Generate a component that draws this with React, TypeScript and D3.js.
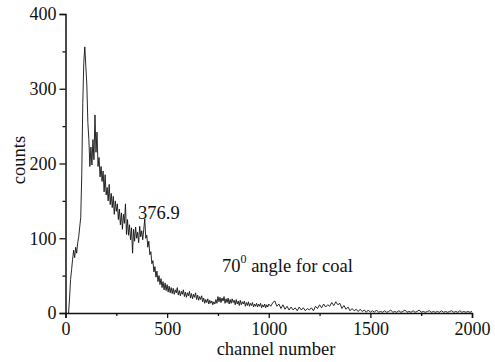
import React, { useRef, useEffect } from 'react';
import * as d3 from 'd3';

// channel grid: every 5 channels from 15 to 1000, then every 10 up to 2000
const lowChannels = d3.range(15, 1001, 5);
const highChannels = d3.range(1010, 2001, 10);

const lowCounts = [
  // 15 - 500
  0, 20, 45, 58, 72, 84, 74, 88, 80, 94,
  102, 115, 128, 185, 280, 335, 356, 330, 305, 255,
  232, 196, 222, 198, 232, 205, 265, 215, 242, 196,
  208, 182, 196, 176, 190, 162, 185, 158, 168, 150,
  172, 145, 160, 141, 156, 132, 150, 136, 146, 125,
  139, 118, 134, 112, 132, 120, 146, 105, 125, 104,
  118, 98, 114, 80, 112, 96, 115, 100, 108, 94,
  116, 102, 110, 98, 112, 126, 100, 104, 88, 96,
  78, 82, 66, 70, 55, 62, 48, 56, 42, 50,
  38, 46, 34, 42, 31, 40, 30, 38,
  // 505 - 1000
  28, 36, 27, 34, 26, 33, 25, 31, 27, 34,
  24, 30, 23, 29, 25, 31, 22, 28, 21, 27,
  23, 29, 20, 26, 19, 25, 21, 27, 18, 24,
  17, 22, 18, 23, 15, 20, 13, 18, 14, 19,
  12, 17, 13, 16, 11, 15, 12, 18, 13, 22,
  15, 21, 14, 20, 16, 22, 13, 19, 14, 20,
  12, 18, 13, 19, 14, 17, 11, 18, 12, 16,
  10, 17, 11, 15, 12, 16, 9, 14, 10, 15,
  9, 13, 10, 14, 8, 12, 9, 13, 8, 12,
  9, 13, 7, 11, 8, 12, 7, 11, 8, 12,
];

const highCounts = [
  // 1010 - 1500
  9, 14, 16, 9, 12, 6, 11, 5, 9, 4,
  8, 4, 7, 3, 8, 4, 7, 3, 6, 4,
  7, 3, 9, 6, 11, 7, 12, 8, 11, 9,
  14, 10, 15, 11, 13, 6, 10, 5, 8, 3,
  6, 3, 5, 2, 5, 2, 4, 1, 4, 1,
  // 1510 - 2000
  3, 1, 4, 1, 2, 1, 3, 1, 2, 4,
  1, 2, 1, 3, 1, 2, 4, 1, 2, 1,
  3, 1, 2, 4, 1, 2, 1, 2, 3, 1,
  2, 1, 2, 1, 3, 1, 2, 1, 2, 3,
  1, 2, 1, 3, 1, 2, 1, 2, 1, 2,
];

const xTicks = [0, 500, 1000, 1500, 2000];
const xMinorTicks = [250, 750, 1250, 1750];
const yTicks = [0, 100, 200, 300, 400];
const yMinorTicks = [50, 150, 250, 350];

const peakLabel = '376.9';

const App = () => {
  const svgRef = useRef<SVGSVGElement>(null);

  useEffect(() => {
    const svg = d3.select(svgRef.current);
    svg.selectAll('*').remove();

    const font = 'Liberation Serif';
    const x = d3.scaleLinear().domain([0, 2000]).range([65.5, 472]);
    const y = d3.scaleLinear().domain([0, 400]).range([313, 14]);

    const points: [number, number][] = [
      ...lowChannels.map((c, i) => [c, lowCounts[i]] as [number, number]),
      ...highChannels.map((c, i) => [c, highCounts[i]] as [number, number]),
    ];

    const line = d3.line<[number, number]>()
      .x(d => x(d[0]))
      .y(d => y(d[1]));

    svg.append('path')
      .datum(points)
      .attr('fill', 'none')
      .attr('stroke', '#111')
      .attr('stroke-width', 0.9)
      .attr('d', line);

    // x axis
    const xAxis = svg.append('g').attr('transform', `translate(0,${y(0)})`);
    xAxis.call(d3.axisBottom(x).tickValues(xTicks).tickSize(5).tickPadding(4).tickFormat(d3.format('d')));
    const xMinor = xAxis.append('g').call(d3.axisBottom(x).tickValues(xMinorTicks).tickSize(3).tickFormat(() => ''));
    xMinor.select('.domain').remove();

    // y axis
    const yAxis = svg.append('g').attr('transform', `translate(${x(0)},0)`);
    yAxis.call(d3.axisLeft(y).tickValues(yTicks).tickSize(6).tickPadding(3).tickFormat(d3.format('d')));
    const yMinor = yAxis.append('g').call(d3.axisLeft(y).tickValues(yMinorTicks).tickSize(3).tickFormat(() => ''));
    yMinor.select('.domain').remove();

    svg.selectAll('.domain, .tick line').attr('stroke', '#111').attr('stroke-width', 1.3);
    svg.selectAll('.domain').attr('stroke-width', 1.5);
    svg.selectAll('.tick text')
      .attr('fill', '#111')
      .style('font-family', font)
      .style('font-size', '18px');

    svg.append('text')
      .attr('x', 276)
      .attr('y', 355)
      .attr('text-anchor', 'middle')
      .style('font-family', font)
      .style('font-size', '18.5px')
      .attr('fill', '#111')
      .text('channel number');

    svg.append('text')
      .attr('transform', 'translate(25,160) rotate(-90)')
      .attr('text-anchor', 'middle')
      .style('font-family', font)
      .style('font-size', '18.5px')
      .attr('fill', '#111')
      .text('counts');

    svg.append('text')
      .attr('x', 138)
      .attr('y', 219)
      .style('font-family', font)
      .style('font-size', '18.5px')
      .attr('fill', '#111')
      .text(peakLabel);

    const note = svg.append('text')
      .attr('x', 222)
      .attr('y', 272)
      .style('font-family', font)
      .style('font-size', '18.5px')
      .attr('fill', '#111');
    note.append('tspan').text('70');
    note.append('tspan').attr('dy', -9).style('font-size', '12px').text('0');
    note.append('tspan').attr('dy', 9).text(' angle for coal');
  }, []);

  return (
    <svg
      ref={svgRef}
      width="495"
      height="362"
      style={{ position: 'absolute', left: 0, top: 0, background: '#fff' }}
    ></svg>
  );
};

export default App;
